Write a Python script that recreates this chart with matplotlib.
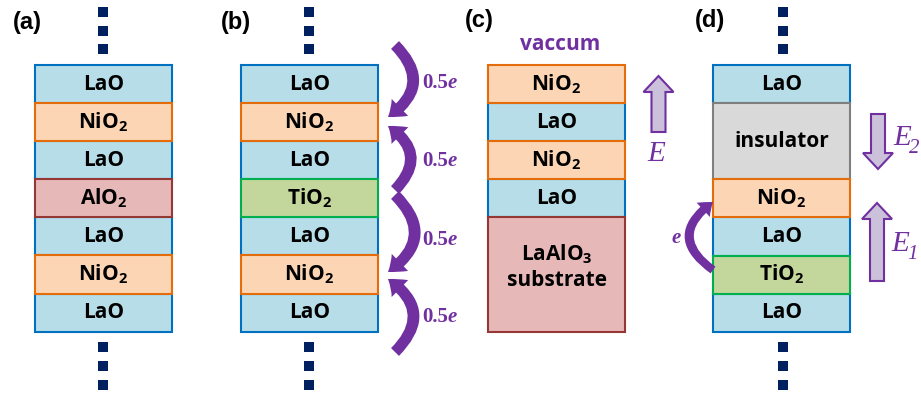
import matplotlib
matplotlib.use('Agg')
import matplotlib.pyplot as plt
from matplotlib.patches import Rectangle, FancyArrowPatch

plt.rcParams['mathtext.fontset'] = 'custom'
plt.rcParams['mathtext.rm'] = 'Open Sans:bold'
plt.rcParams['mathtext.it'] = 'Open Sans:italic:bold'
plt.rcParams['mathtext.bf'] = 'Open Sans:bold'

PURPLE = '#7030A0'
LAVENDER = '#CCC1DA'
NAVY = '#002060'

# layer stacks, top to bottom
panel_names = ['(a)', '(b)', '(c)', '(d)']
stack_a = ['LaO', 'NiO2', 'LaO', 'AlO2', 'LaO', 'NiO2', 'LaO']
stack_b = ['LaO', 'NiO2', 'LaO', 'TiO2', 'LaO', 'NiO2', 'LaO']
stack_c = ['NiO2', 'LaO', 'NiO2', 'LaO', 'substrate']
stack_d = ['LaO', 'insulator', 'NiO2', 'LaO', 'TiO2', 'LaO']
stacks = [stack_a, stack_b, stack_c, stack_d]

# kind -> fill, edge, label, height in layer units
styles = {
    'LaO': ('#B7DEE8', '#0070C0', 'LaO', 1),
    'NiO2': ('#FCD5B5', '#E46C0A', 'NiO$_2$', 1),
    'AlO2': ('#E6B9B8', '#953735', 'AlO$_2$', 1),
    'TiO2': ('#C3D69B', '#00B050', 'TiO$_2$', 1),
    'insulator': ('#D9D9D9', '#7F7F7F', 'insulator', 2),
    'substrate': ('#E6B9B8', '#953735', 'LaAlO$_3$\nsubstrate', 3),
}

# layout (pixels)
stack_left = [35, 241, 488, 713]
stack_w = 137
stack_top = 65
unit = 38.1
label_pos = [(27, 22), (236, 22), (479, 21), (710, 21)]
dot_x = [103, 309, None, 783]
dots_top = [12, 31, 49]
dots_bottom = [347, 366, 385]

# charge transfer arrows in (b): (start, end, rad), label y
b_arrows = [((395, 45), (388, 117), -0.6),
            ((395, 190), (388, 126), 0.6),
            ((395, 195), (388, 272), -0.6),
            ((395, 352), (388, 279), 0.6)]
b_label_y = [83, 161, 240, 317]

# field arrows: x, y_tail, y_tip, label, subscript, label position
field_arrows = [(658.5, 132, 76, 'E', '', (647, 154)),
                (878, 114, 169, 'E', '2', (893, 138)),
                (877, 281, 203, 'E', '1', (891, 244))]

fig = plt.figure(figsize=(9.21, 3.96), dpi=100)
ax = fig.add_axes([0, 0, 1, 1])
ax.set_xlim(0, 921)
ax.set_ylim(396, 0)
ax.axis('off')

for i, stack in enumerate(stacks):
    x0 = stack_left[i]
    y = stack_top
    boxes = []
    for kind in stack:
        fc, ec, lab, h = styles[kind]
        boxes.append((kind, y, h))
        y += h * unit
    # blue layers first so the coloured borders sit on top
    for order in (0, 1):
        for kind, y, h in boxes:
            if (kind == 'LaO') != (order == 0):
                continue
            fc, ec, lab, _ = styles[kind]
            ax.add_patch(Rectangle((x0, y), stack_w, h * unit, fc=fc, ec=ec, lw=1.5))
    for kind, y, h in boxes:
        lab = styles[kind][2]
        yc = y + h * unit / 2
        if kind == 'substrate':
            yc -= 8
        ax.text(x0 + stack_w / 2, yc, lab, ha='center', va='center',
                fontsize=15, fontfamily='Open Sans', fontweight='bold',
                linespacing=1.25)
    ax.text(*label_pos[i], panel_names[i], ha='center', va='center',
            fontsize=17, fontfamily='Liberation Sans', fontweight='bold')
    if dot_x[i] is not None:
        ax.scatter([dot_x[i]] * 6, dots_top + dots_bottom, marker='s', s=45,
                   color=NAVY, lw=0)

# (c) vacuum label
ax.text(560, 45, 'vaccum', ha='center', va='center', color=PURPLE,
        fontsize=15, fontfamily='Open Sans', fontweight='bold')

# (b) curved arrows
for (p0, p1, rad), ly in zip(b_arrows, b_label_y):
    ax.add_patch(FancyArrowPatch(p0, p1, connectionstyle='arc3,rad=%g' % rad,
                                 arrowstyle='simple,head_length=11,head_width=17,tail_width=8',
                                 mutation_scale=1, shrinkA=0, shrinkB=0,
                                 fc=PURPLE, ec='none'))
    t = ax.text(422, ly, '0.5', ha='left', va='center', color=PURPLE,
                fontsize=15, fontfamily='Liberation Serif', fontweight='bold')
    ax.annotate('e', xy=(1, 0), xycoords=t, ha='left', va='bottom', color=PURPLE,
                fontsize=15, fontfamily='Liberation Serif', fontweight='bold',
                fontstyle='italic')

# (d) electron arrow
ax.add_patch(FancyArrowPatch((713, 270), (713, 202), connectionstyle='arc3,rad=-0.7',
                             arrowstyle='simple,head_length=9,head_width=14,tail_width=6',
                             mutation_scale=1, shrinkA=0, shrinkB=0,
                             fc=PURPLE, ec='none'))
ax.text(676, 238, 'e', ha='center', va='center', color=PURPLE, fontsize=15,
        fontfamily='Liberation Serif', fontweight='bold', fontstyle='italic')

# field arrows
for x, y0, y1, lab, sub, lp in field_arrows:
    ax.arrow(x, y0, 0, y1 - y0, width=14, head_width=30, head_length=16,
             length_includes_head=True, fc=LAVENDER, ec=PURPLE, lw=1.5)
    t = ax.text(*lp, lab, ha='left', va='center', color=PURPLE, fontsize=21,
                fontfamily='Liberation Serif', fontstyle='italic')
    if sub:
        ax.annotate(sub, xy=(0.92, 0.08), xycoords=t, ha='left', va='center',
                    color=PURPLE, fontsize=15, fontfamily='Liberation Serif',
                    fontstyle='italic')

fig.savefig('out.png', dpi=100)
